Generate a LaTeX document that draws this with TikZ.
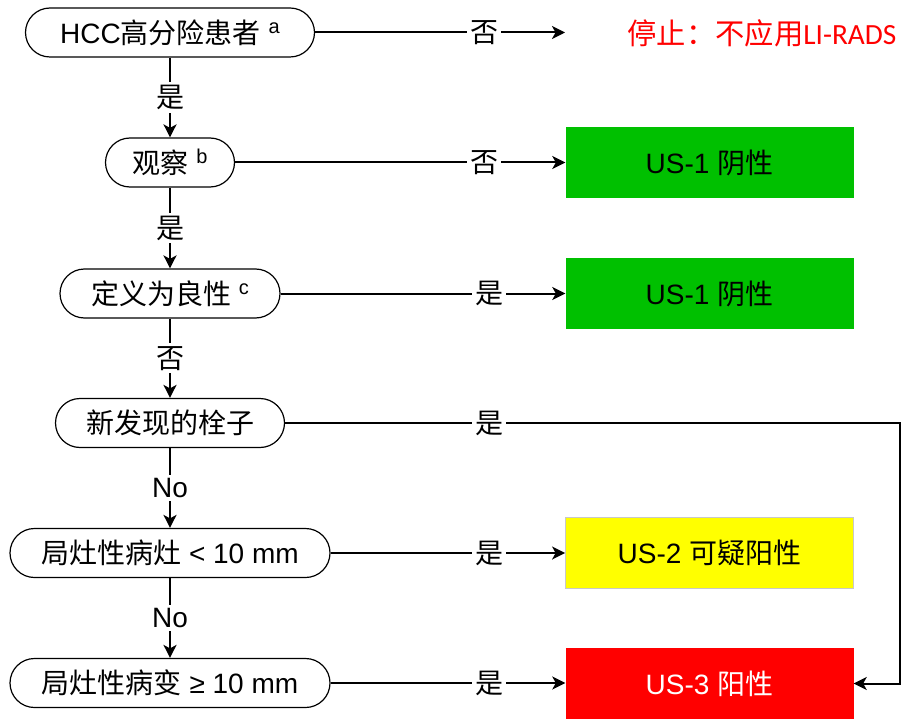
\documentclass[tikz,border=0pt]{standalone}
\usepackage{fontspec}
\setmainfont{Liberation Sans}
\newfontfamily\cjk{Noto Sans CJK SC}
\newfontfamily\carlito{Carlito}
\usetikzlibrary{arrows.meta}
\definecolor{usgreen}{RGB}{0,192,0}
\definecolor{usred}{RGB}{255,0,0}
\definecolor{usyellow}{RGB}{255,255,0}
\definecolor{bordergray}{RGB}{200,200,200}
\newcommand\sups[1]{\raisebox{0.36em}{\fontsize{20}{20}\selectfont #1}}
\begin{document}
\begin{tikzpicture}[x=1pt,y=-1pt,
  every node/.style={font=\fontsize{28}{30}\selectfont},
  decision/.style={draw=black, line width=1.2pt, rounded corners=24.5pt, minimum height=49pt, inner sep=0pt, fill=white},
  result/.style={minimum width=288pt, minimum height=71pt, inner sep=0pt},
  lbl/.style={fill=white, inner sep=3pt},
  conn/.style={line width=2pt, -{Stealth[length=13pt,width=13pt,inset=3.5pt]}},
]
\useasboundingbox (0,0) rectangle (901,719);

% decision nodes
\node[decision, minimum width=289pt] (n1) at (170,32.5) {HCC{\cjk 高分险患者} \sups{a}};
\node[decision, minimum width=129pt] (n2) at (170,162.5) {{\cjk 观察} \sups{b}};
\node[decision, minimum width=220pt] (n3) at (170,293.5) {{\cjk 定义为良性} \sups{c}};
\node[decision, minimum width=229pt] (n4) at (170,423) {\cjk 新发现的栓子};
\node[decision, minimum width=320pt] (n5) at (170,553) {{\cjk 局灶性病灶} < 10 mm};
\node[decision, minimum width=320pt] (n6) at (170,683) {{\cjk 局灶性病变} ≥ 10 mm};

% results
\node[text=usred, font=\fontsize{29.3}{31}\selectfont] (stop) at (762,33) {{\cjk 停止：不应用}{\carlito LI-RADS}};
\node[result, fill=usgreen] (r1) at (709.5,162.5) {US-1 {\cjk 阴性}};
\node[result, fill=usgreen] (r2) at (709.5,293.5) {US-1 {\cjk 阴性}};
\node[result, fill=usyellow, draw=bordergray, line width=0.8pt] (r3) at (709.5,553) {US-2 {\cjk 可疑阳性}};
\node[result, fill=usred, text=white] (r4) at (709.5,683.5) {US-3 {\cjk 阳性}};

\coordinate (s1) at (565,32.5);
\coordinate (corner) at (900,423);

% vertical connectors
\draw[conn] (n1) -- (n2) node[lbl, midway] {\cjk 是};
\draw[conn] (n2) -- (n3) node[lbl, midway] {\cjk 是};
\draw[conn] (n3) -- (n4) node[lbl, midway] {\cjk 否};
\draw[conn] (n4) -- (n5) node[lbl, midway] {No};
\draw[conn] (n5) -- (n6) node[lbl, midway] {No};

% horizontal connectors
\draw[conn] (n1.east) -- (s1);
\node[lbl] (l1) at (484,32.5) {\cjk 否};
\draw[conn] (n2.east) -- (r1.west);
\node[lbl] (l2) at (484,162.5) {\cjk 否};
\draw[conn] (n3.east) -- (r2.west);
\node[lbl] (l3) at (489,293.5) {\cjk 是};
\draw[conn] (n4.east) -- (corner) |- (r4.east);
\node[lbl] (l4) at (489,423) {\cjk 是};
\draw[conn] (n5.east) -- (r3.west);
\node[lbl] (l5) at (489,553) {\cjk 是};
\draw[conn] (n6.east) -- (n6.east -| r4.west);
\node[lbl] (l6) at (489,683) {\cjk 是};
\end{tikzpicture}
\end{document}
